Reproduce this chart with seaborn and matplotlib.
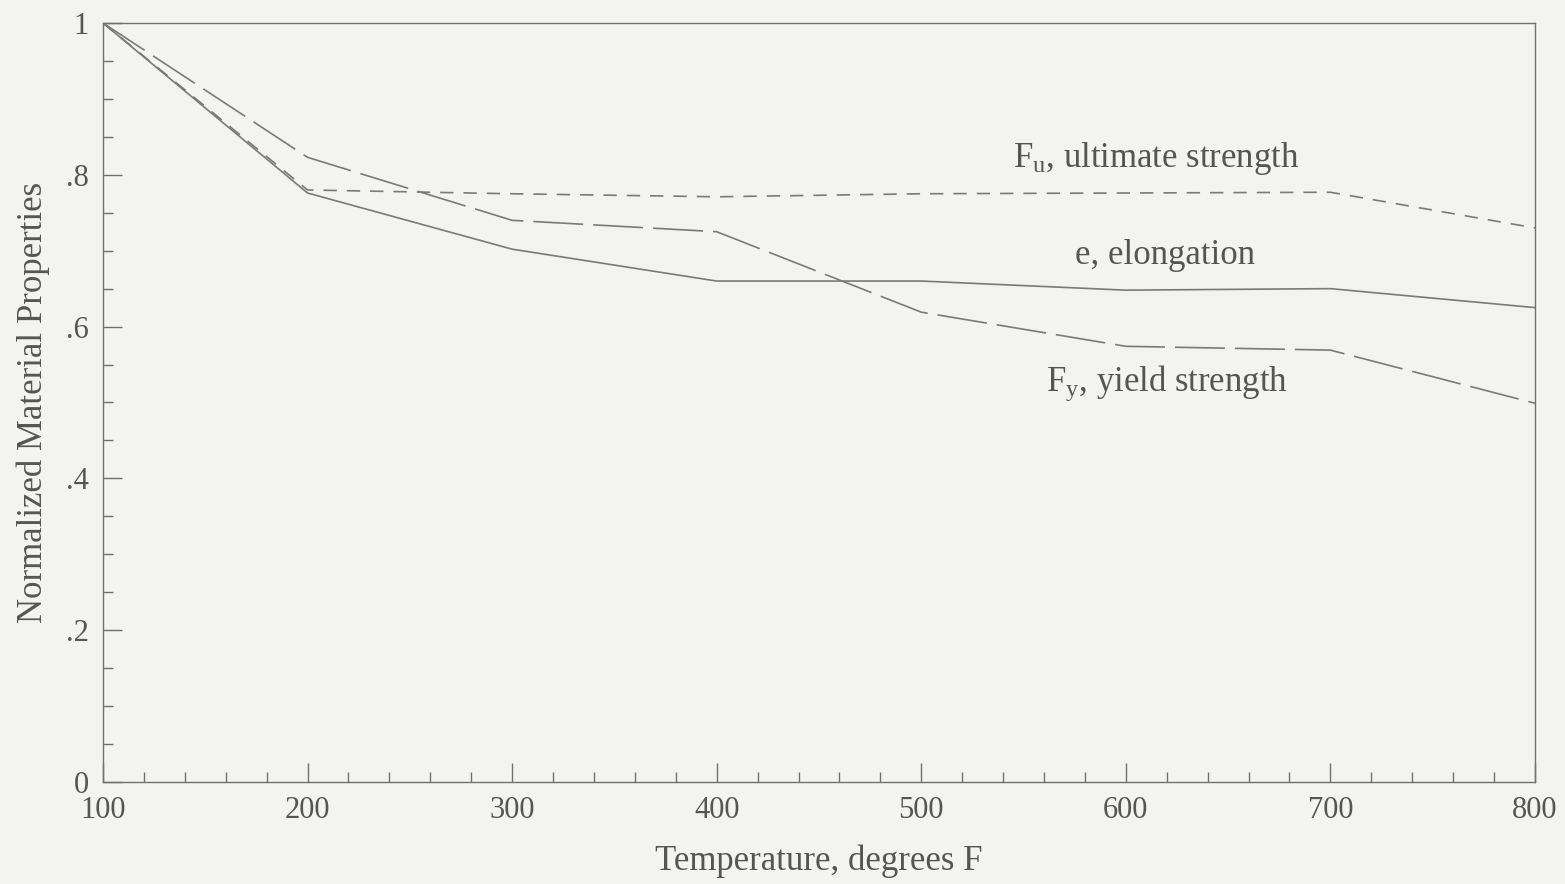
import numpy as np
import pandas as pd
import seaborn as sns
import matplotlib.pyplot as plt
from matplotlib.ticker import MultipleLocator, FixedLocator

# data
temps = [100, 200, 300, 400, 500, 600, 700, 800]
ultimate = [1.0, 0.780, 0.775, 0.771, 0.775, 0.776, 0.777, 0.730]
elongation = [1.0, 0.776, 0.702, 0.660, 0.660, 0.648, 0.650, 0.625]
yield_str = [1.0, 0.823, 0.740, 0.725, 0.619, 0.574, 0.569, 0.499]

series_names = ["ultimate", "elongation", "yield"]
labels = ["F$_\\mathrm{u}$, ultimate strength", "e, elongation", "F$_\\mathrm{y}$, yield strength"]
label_pos = [(615, 0.822), (619, 0.694), (620, 0.526)]

xticks = [100, 200, 300, 400, 500, 600, 700, 800]
yticks = [0, 0.2, 0.4, 0.6, 0.8, 1.0]
ytick_labels = ["0", ".2", ".4", ".6", ".8", "1"]

df = pd.DataFrame({
    "temp": temps * 3,
    "value": ultimate + elongation + yield_str,
    "prop": [n for n in series_names for _ in temps],
})

sns.set_style("white")
plt.rcParams["font.family"] = ["Liberation Serif", "DejaVu Serif"]
plt.rcParams["mathtext.fontset"] = "custom"
plt.rcParams["mathtext.rm"] = "Liberation Serif"
plt.rcParams["mathtext.it"] = "Liberation Serif:italic"

bg = "#f3f3f1"
ink = "#707070"
txt = "#555555"
fig = plt.figure(figsize=(15.65, 8.84), dpi=100, facecolor=bg)
ax = fig.add_axes([0.0658, 0.1154, 0.915, 0.8586])
ax.set_facecolor(bg)

sns.lineplot(data=df, x="temp", y="value", hue="prop", style="prop",
             palette={n: "#7a7a7a" for n in series_names},
             dashes={"ultimate": (8, 6), "elongation": "", "yield": (30, 6)},
             linewidth=1.2, legend=False, ax=ax)

for lab, (lx, ly) in zip(labels, label_pos):
    ax.text(lx, ly, lab, ha="center", va="center", fontsize=25, color=txt)

ax.set_xlim(100, 800)
ax.set_ylim(0, 1)
ax.xaxis.set_major_locator(FixedLocator(xticks))
ax.xaxis.set_minor_locator(MultipleLocator(20))
ax.yaxis.set_major_locator(FixedLocator(yticks))
ax.yaxis.set_minor_locator(MultipleLocator(0.05))
ax.set_yticklabels(ytick_labels)
ax.tick_params(which="both", direction="in", color=ink, labelcolor=txt,
               labelsize=22, bottom=True, left=True, top=False, right=False)
ax.tick_params(axis="x", which="both", pad=10)
ax.tick_params(axis="y", which="both", pad=10)
ax.tick_params(which="major", length=14, width=1)
ax.tick_params(which="minor", length=7, width=1)
for sp in ax.spines.values():
    sp.set_color(ink)
    sp.set_linewidth(1)

ax.set_xlabel("Temperature, degrees F", fontsize=25, color=txt, labelpad=14)
ax.set_ylabel("Normalized Material Properties", fontsize=25, color=txt, labelpad=12)

fig.savefig("out.png", dpi=100, facecolor=bg)
